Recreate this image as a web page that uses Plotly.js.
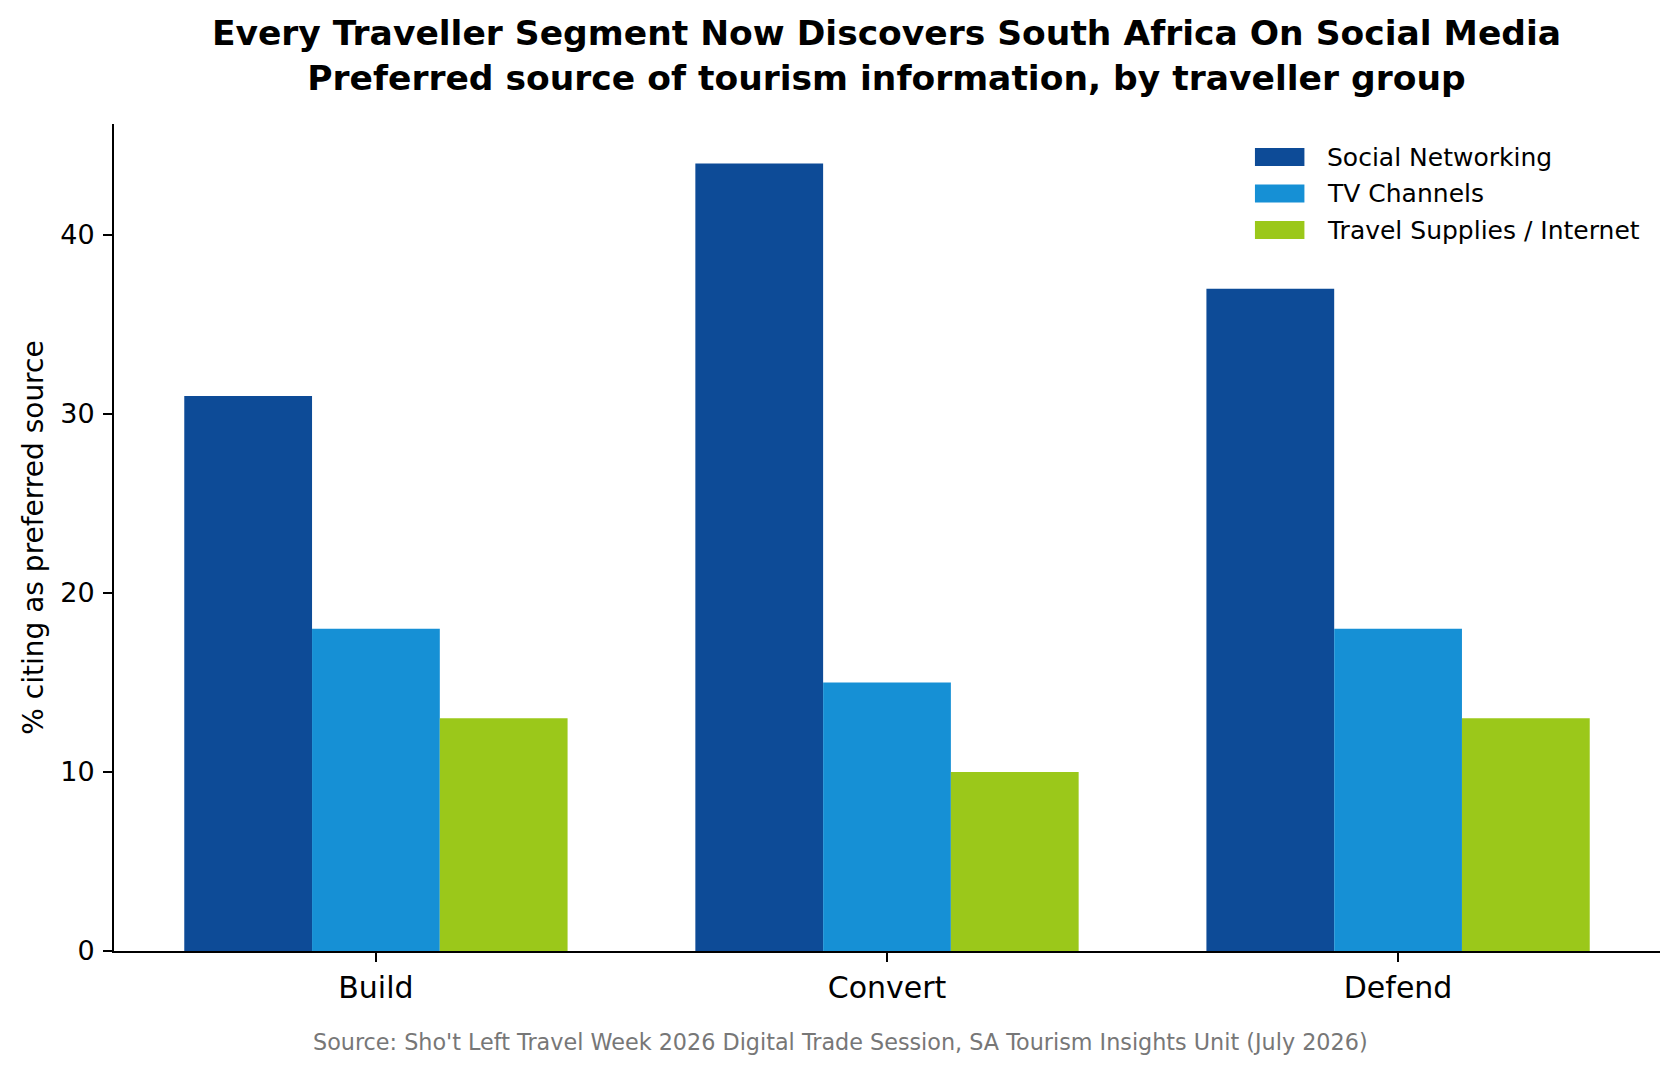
<!DOCTYPE html>
<html>
<head>
<meta charset="utf-8">
<script src="https://cdn.plot.ly/plotly-3.0.1.min.js"></script>
<style>
  html, body { margin: 0; padding: 0; background: #fff; }
  #myDiv { width: 1679px; height: 1074px; }
</style>
</head>
<body>
<div id="myDiv"></div>
<script>
var groups = ['Build', 'Convert', 'Defend'];
var socialNetworking = [31, 44, 37];
var tvChannels = [18, 15, 18];
var travelSupplies = [13, 10, 13];

var seriesNames = ['Social Networking', 'TV Channels', 'Travel Supplies / Internet'];
var seriesColors = ['#0d4b97', '#1690d5', '#9bc81a'];
var seriesValues = [socialNetworking, tvChannels, travelSupplies];

var FONT = 'DejaVu Sans, Verdana, sans-serif';

var data = [];
for (var i = 0; i < seriesValues.length; i++) {
  data.push({
    type: 'bar',
    name: seriesNames[i],
    x: groups,
    y: seriesValues[i],
    marker: { color: seriesColors[i], line: { width: 0 } },
    hoverinfo: 'x+y+name'
  });
}

// legend drawn by hand so the patches get the matplotlib-like size
var shapes = [];
var annotations = [];
var legendTop = 0.960, legendStep = 0.0441;
for (var j = 0; j < seriesNames.length; j++) {
  var yc = legendTop - j * legendStep;
  shapes.push({
    type: 'rect', xref: 'paper', yref: 'paper',
    x0: 0.738, x1: 0.770, y0: yc - 0.0109, y1: yc + 0.0109,
    fillcolor: seriesColors[j], line: { width: 0 }
  });
  annotations.push({
    text: seriesNames[j], xref: 'paper', yref: 'paper',
    x: 0.783, y: yc, xanchor: 'left', yanchor: 'middle',
    showarrow: false,
    font: { family: FONT, size: 25, color: '#000' }
  });
}
annotations.push({
  text: "Source: Sho't Left Travel Week 2026 Digital Trade Session, SA Tourism Insights Unit (July 2026)",
  xref: 'paper', yref: 'paper',
  x: 0.4696, y: -0.11, xanchor: 'center', yanchor: 'middle',
  showarrow: false,
  font: { family: FONT, size: 22.3, color: '#777777' }
});

var layout = {
  width: 1679,
  height: 1074,
  margin: { l: 114, r: 19, t: 124, b: 123 },
  paper_bgcolor: '#fff',
  plot_bgcolor: '#fff',
  font: { family: FONT, color: '#000' },
  barmode: 'group',
  bargap: 0.25,
  bargroupgap: 0,
  title: {
    text: '<b>Every Traveller Segment Now Discovers South Africa On Social Media<br>Preferred source of tourism information, by traveller group</b>',
    font: { family: FONT, size: 34.5, color: '#000' },
    x: 0.528,
    xanchor: 'center',
    yref: 'container',
    y: 0.958,
    yanchor: 'top'
  },
  showlegend: false,
  xaxis: {
    type: 'category',
    range: [-0.5125, 2.5125],
    showline: true,
    linecolor: '#000',
    linewidth: 2,
    ticks: 'outside',
    ticklen: 9,
    tickwidth: 1.6,
    tickcolor: '#000',
    tickfont: { family: FONT, size: 30, color: '#000' },
    showgrid: false,
    zeroline: false,
    fixedrange: true
  },
  yaxis: {
    range: [0, 46.2],
    dtick: 10,
    showline: true,
    linecolor: '#000',
    linewidth: 2,
    ticks: 'outside',
    ticklen: 9,
    tickwidth: 1.6,
    tickcolor: '#000',
    ticklabelstandoff: 3,
    tickfont: { family: FONT, size: 27, color: '#000' },
    showgrid: false,
    zeroline: false,
    fixedrange: true,
    title: {
      text: '% citing as preferred source',
      font: { family: FONT, size: 28, color: '#000' },
      standoff: 8
    }
  },
  shapes: shapes,
  annotations: annotations
};

Plotly.newPlot('myDiv', data, layout, { displayModeBar: false });
</script>
</body>
</html>
